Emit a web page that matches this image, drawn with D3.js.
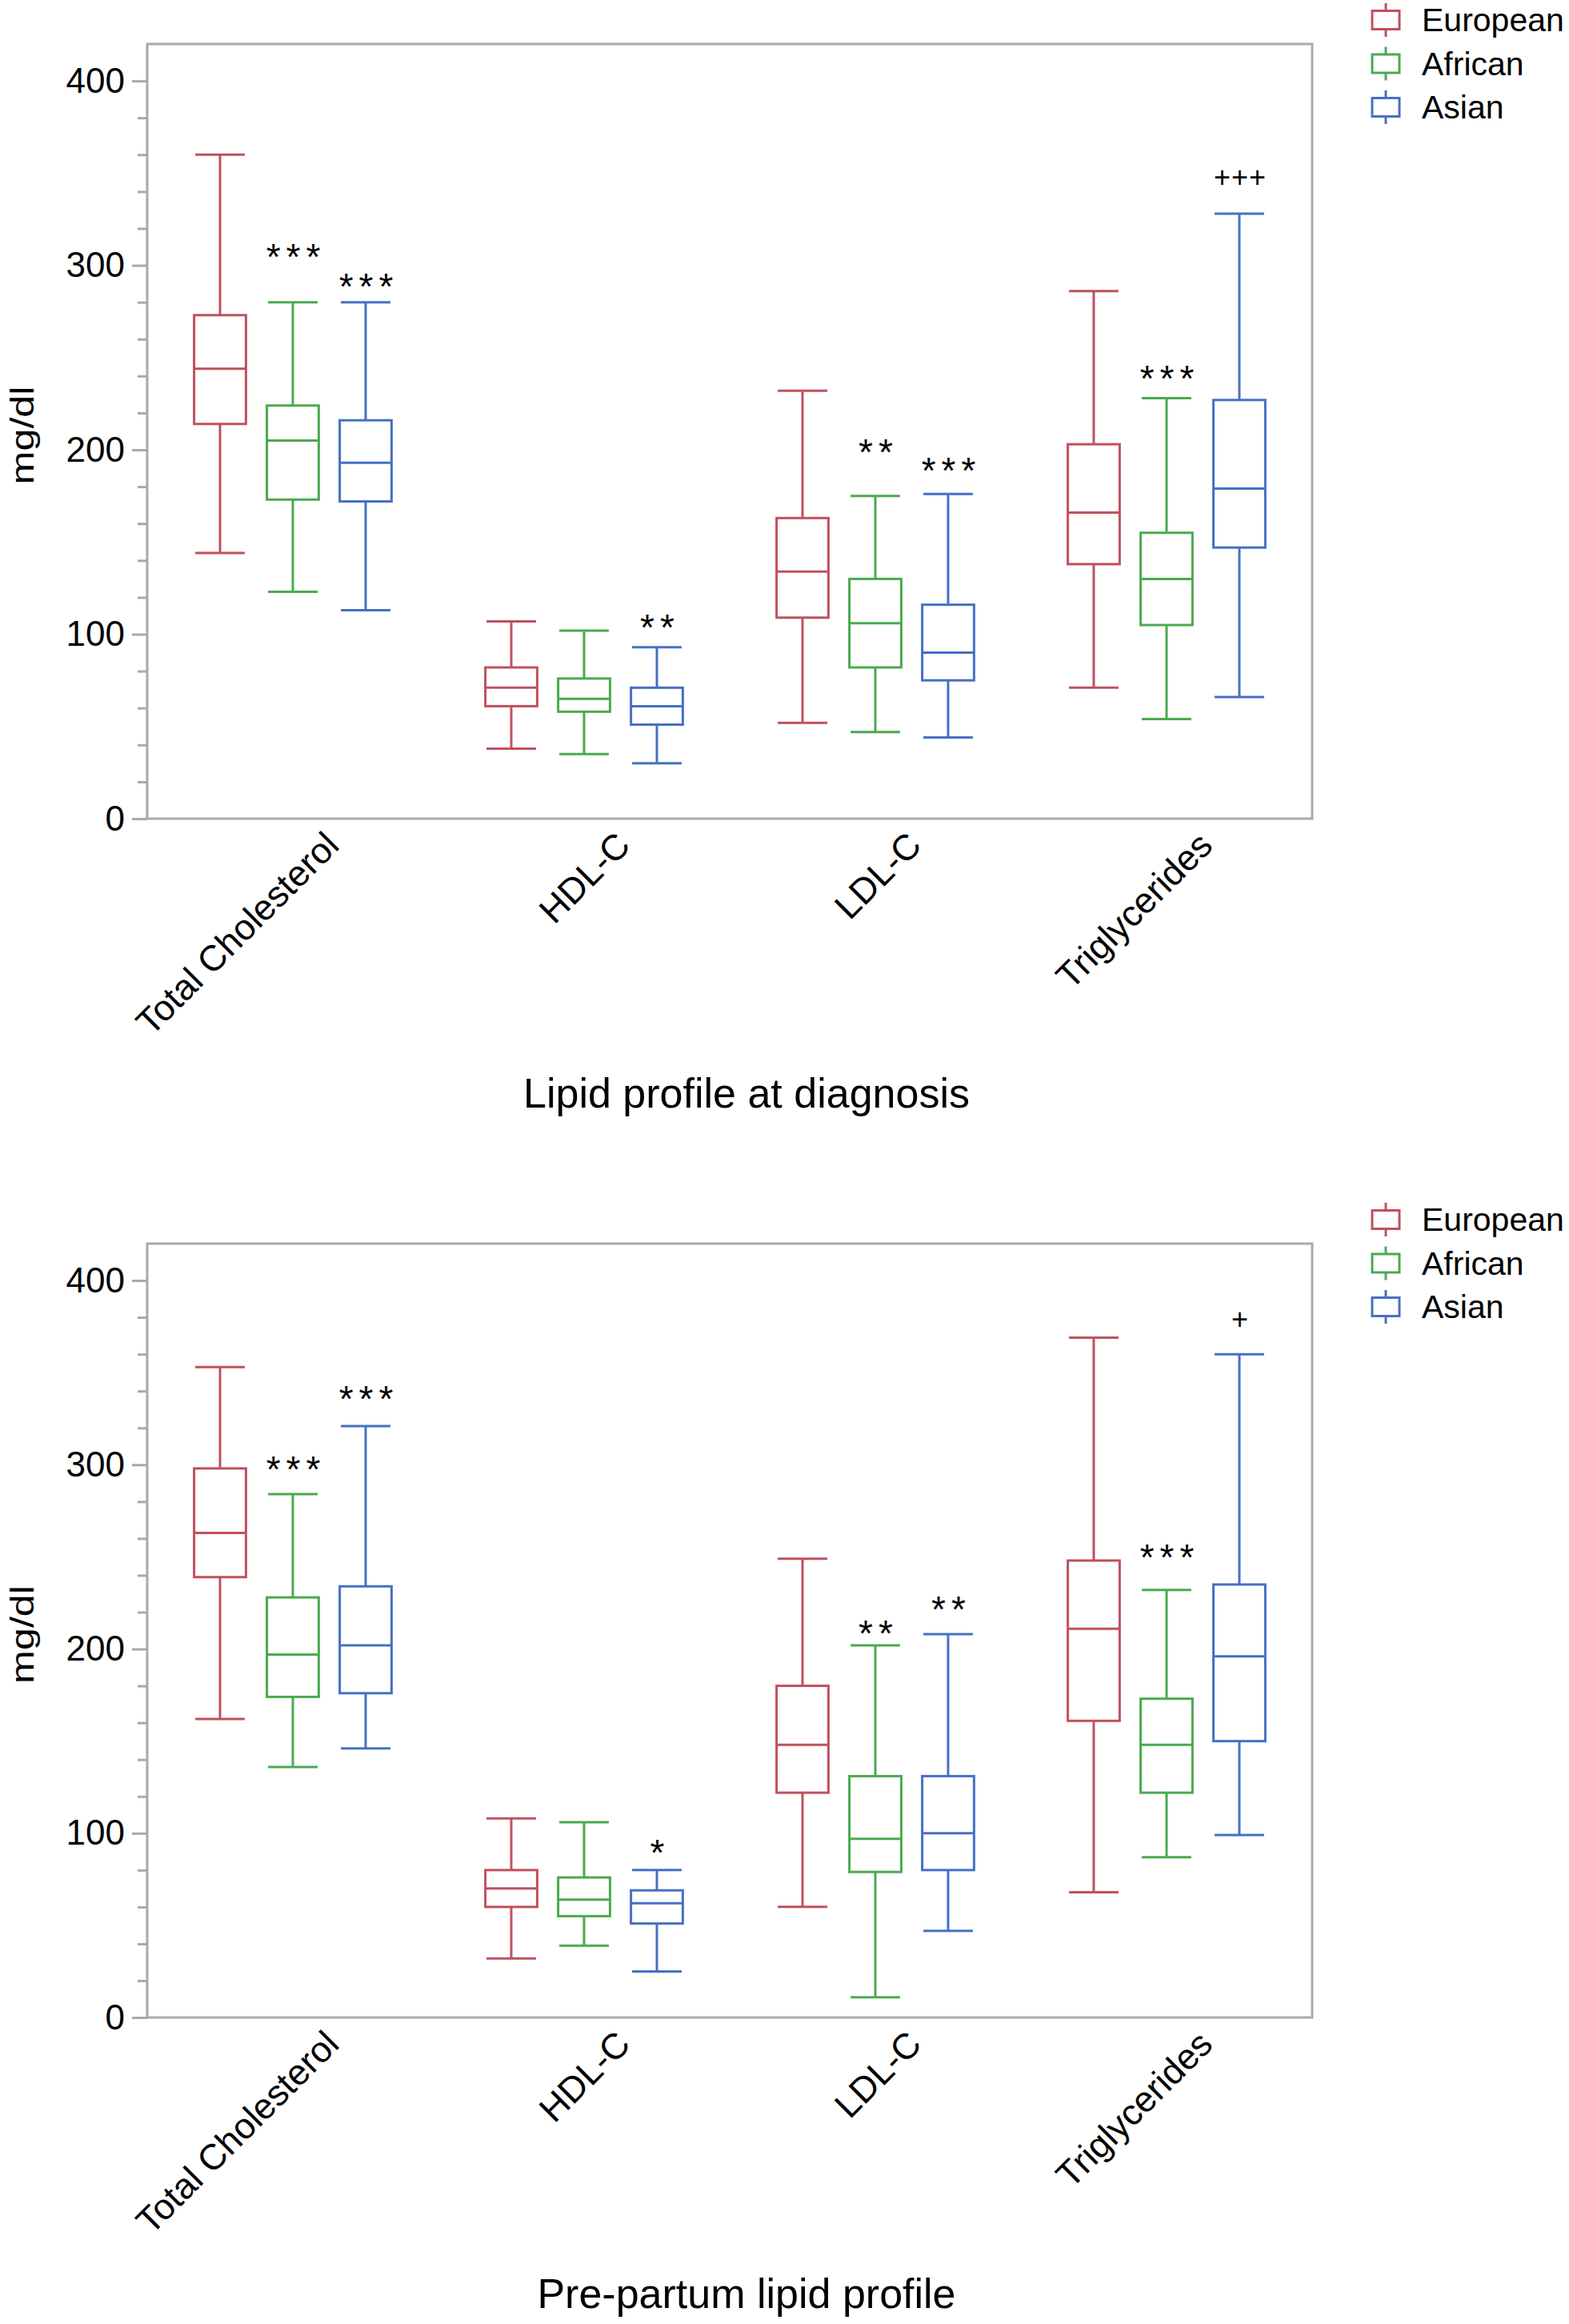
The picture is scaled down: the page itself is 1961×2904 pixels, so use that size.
<!DOCTYPE html>
<html lang="en">
<head>
  <title>Lipid profiles</title>
  <style>
    body { margin: 0; background: #fff; }
    text { font-family: "Liberation Sans", Arial, sans-serif; fill: #000; }
  </style>
</head>
<body>
  <script src="https://d3js.org/d3.v7.min.js"></script>
  <svg></svg>
  <script>

// Categories and groups
var categories = ["Total Cholesterol", "HDL-C", "LDL-C", "Triglycerides"];
var groups = ["European", "African", "Asian"];
var groupColors = ["#c0505f", "#4aaa4f", "#4670c4"];
var yTicks = [0, 100, 200, 300, 400];
var yMinorTicks = [20, 40, 60, 80, 120, 140, 160, 180, 220, 240, 260, 280, 320, 340, 360, 380];

// five-number summaries [min, q1, median, q3, max], one row per category
var diagEuropean = [[144, 214, 244, 273, 360], [38, 61, 71, 82, 107], [52, 109, 134, 163, 232], [71, 138, 166, 203, 286]];
var diagAfrican  = [[123, 173, 205, 224, 280], [35, 58, 65, 76, 102], [47, 82, 106, 130, 175], [54, 105, 130, 155, 228]];
var diagAsian    = [[113, 172, 193, 216, 280], [30, 51, 61, 71, 93],  [44, 75, 90, 116, 176],  [66, 147, 179, 227, 328]];

var preEuropean = [[162, 239, 263, 298, 353], [32, 60, 70, 80, 108], [60, 122, 148, 180, 249], [68, 161, 211, 248, 369]];
var preAfrican  = [[136, 174, 197, 228, 284], [39, 55, 64, 76, 106], [11, 79, 97, 131, 202],  [87, 122, 148, 173, 232]];
var preAsian    = [[146, 176, 202, 234, 321], [25, 51, 62, 69, 80],  [47, 80, 100, 131, 208], [99, 150, 196, 235, 360]];

// significance marks: [category, group, label, value at mark centre]
var diagMarks = [
  ["Total Cholesterol", "African", "***", 309],
  ["Total Cholesterol", "Asian", "***", 293],
  ["HDL-C", "Asian", "**", 108],
  ["LDL-C", "African", "**", 203],
  ["LDL-C", "Asian", "***", 193],
  ["Triglycerides", "African", "***", 243],
  ["Triglycerides", "Asian", "+++", 348]
];
var preMarks = [
  ["Total Cholesterol", "African", "***", 302],
  ["Total Cholesterol", "Asian", "***", 340],
  ["HDL-C", "Asian", "*", 94],
  ["LDL-C", "African", "**", 213],
  ["LDL-C", "Asian", "**", 226],
  ["Triglycerides", "African", "***", 254],
  ["Triglycerides", "Asian", "+", 379]
];

var width = 1961, height = 2904;
var frameLeft = 184, frameRight = 1640;

var svg = d3.select('svg')
            .attr('width', width)
            .attr('height', height);

var panels = [
  {top: 55, bottom: 1023, title: "Lipid profile at diagnosis", titleY: 1384,
   series: [diagEuropean, diagAfrican, diagAsian], marks: diagMarks},
  {top: 1554, bottom: 2521, title: "Pre-partum lipid profile", titleY: 2884,
   series: [preEuropean, preAfrican, preAsian], marks: preMarks}
];

panels.forEach(function(p) {
  var g = svg.append('g');

  var x = d3.scaleBand().domain(categories).range([frameLeft, frameRight]).padding(0);
  var bw = x.bandwidth();
  var xs = d3.scalePoint().domain(groups).range([bw * 0.25, bw * 0.75]);
  var y = d3.scaleLinear().domain([0, 420]).range([p.bottom, p.top]);
  var color = d3.scaleOrdinal().domain(groups).range(groupColors);

  var boxW = bw * 0.178, capW = bw * 0.17;

  // frame
  g.append('rect')
   .attr('x', frameLeft).attr('y', p.top)
   .attr('width', frameRight - frameLeft).attr('height', p.bottom - p.top)
   .attr('fill', 'none').attr('stroke', '#a9a9a9').attr('stroke-width', 3);

  // y axis, major + minor
  var yAxis = g.append('g')
   .attr('transform', 'translate(' + frameLeft + ',0)')
   .call(d3.axisLeft(y).tickValues(yTicks).tickSize(19).tickPadding(9));
  yAxis.select('.domain').remove();
  yAxis.selectAll('line').attr('stroke', '#a9a9a9').attr('stroke-width', 3);
  yAxis.selectAll('text').style('font-size', '44px').attr('fill', '#000');

  var yMinor = g.append('g')
   .attr('transform', 'translate(' + frameLeft + ',0)')
   .call(d3.axisLeft(y).tickValues(yMinorTicks).tickSize(12).tickFormat(''));
  yMinor.select('.domain').remove();
  yMinor.selectAll('line').attr('stroke', '#a9a9a9').attr('stroke-width', 3);

  // y title (reference glyphs are drawn long and low)
  g.append('text')
   .attr('transform', 'translate(42,' + ((p.top + p.bottom) / 2 + 5) + ') rotate(-90)')
   .attr('text-anchor', 'middle')
   .attr('textLength', 123)
   .attr('lengthAdjust', 'spacingAndGlyphs')
   .style('font-size', '40px')
   .text('mg/dl');

  // boxes
  var rows = [];
  p.series.forEach(function(s, gi) {
    s.forEach(function(v, ci) {
      rows.push({cat: categories[ci], grp: groups[gi], v: v});
    });
  });

  var boxes = g.selectAll('.box').data(rows).enter().append('g')
    .attr('class', 'box')
    .attr('transform', function(d) { return 'translate(' + (x(d.cat) + xs(d.grp)) + ',0)'; })
    .attr('stroke', function(d) { return color(d.grp); })
    .attr('stroke-width', 3)
    .attr('fill', 'none');

  // whiskers
  boxes.append('line').attr('x1', 0).attr('x2', 0)
    .attr('y1', function(d) { return y(d.v[4]); }).attr('y2', function(d) { return y(d.v[3]); });
  boxes.append('line').attr('x1', 0).attr('x2', 0)
    .attr('y1', function(d) { return y(d.v[1]); }).attr('y2', function(d) { return y(d.v[0]); });
  // caps
  boxes.append('line').attr('x1', -capW / 2).attr('x2', capW / 2)
    .attr('y1', function(d) { return y(d.v[4]); }).attr('y2', function(d) { return y(d.v[4]); });
  boxes.append('line').attr('x1', -capW / 2).attr('x2', capW / 2)
    .attr('y1', function(d) { return y(d.v[0]); }).attr('y2', function(d) { return y(d.v[0]); });
  // box
  boxes.append('rect').attr('x', -boxW / 2).attr('width', boxW)
    .attr('y', function(d) { return y(d.v[3]); })
    .attr('height', function(d) { return y(d.v[1]) - y(d.v[3]); });
  // median
  boxes.append('line').attr('x1', -boxW / 2).attr('x2', boxW / 2)
    .attr('y1', function(d) { return y(d.v[2]); }).attr('y2', function(d) { return y(d.v[2]); });

  // significance marks
  g.selectAll('.mark').data(p.marks).enter().append('text')
    .attr('class', 'mark')
    .attr('x', function(d) { return x(d[0]) + xs(d[1]); })
    .attr('y', function(d) { return y(d[3]) + (d[2][0] === '+' ? 13 : 26); })
    .attr('dx', function(d) { return d[2][0] === '+' ? 1 : 4; })
    .attr('text-anchor', 'middle')
    .style('font-size', function(d) { return d[2][0] === '+' ? '36px' : '46px'; })
    .style('letter-spacing', function(d) { return d[2][0] === '+' ? '1px' : '7px'; })
    .text(function(d) { return d[2]; });

  // category labels
  g.selectAll('.cat').data(categories).enter().append('text')
    .attr('class', 'cat')
    .attr('transform', function(d) {
      return 'translate(' + (x(d) + bw / 2 + 60) + ',' + (p.bottom + 36) + ') rotate(-45)';
    })
    .attr('text-anchor', 'end')
    .style('font-size', '45px')
    .text(function(d) { return d; });

  // x title
  g.append('text')
   .attr('x', 933).attr('y', p.titleY)
   .attr('text-anchor', 'middle')
   .style('font-size', '52px')
   .text(p.title);

  // legend
  var leg = g.selectAll('.leg').data(groups).enter().append('g')
    .attr('class', 'leg')
    .attr('transform', function(d, i) { return 'translate(1732,' + (p.top - 30 + i * 54.5) + ')'; });
  leg.append('line').attr('x1', 0).attr('x2', 0).attr('y1', -21).attr('y2', 21)
    .attr('stroke', function(d) { return color(d); }).attr('stroke-width', 3);
  leg.append('rect').attr('x', -17).attr('y', -11.5).attr('width', 34).attr('height', 23)
    .attr('fill', '#fff')
    .attr('stroke', function(d) { return color(d); }).attr('stroke-width', 3);
  leg.append('text').attr('x', 45).attr('dy', '0.35em')
    .style('font-size', '41px')
    .text(function(d) { return d; });
});

  </script>
</body>
</html>
